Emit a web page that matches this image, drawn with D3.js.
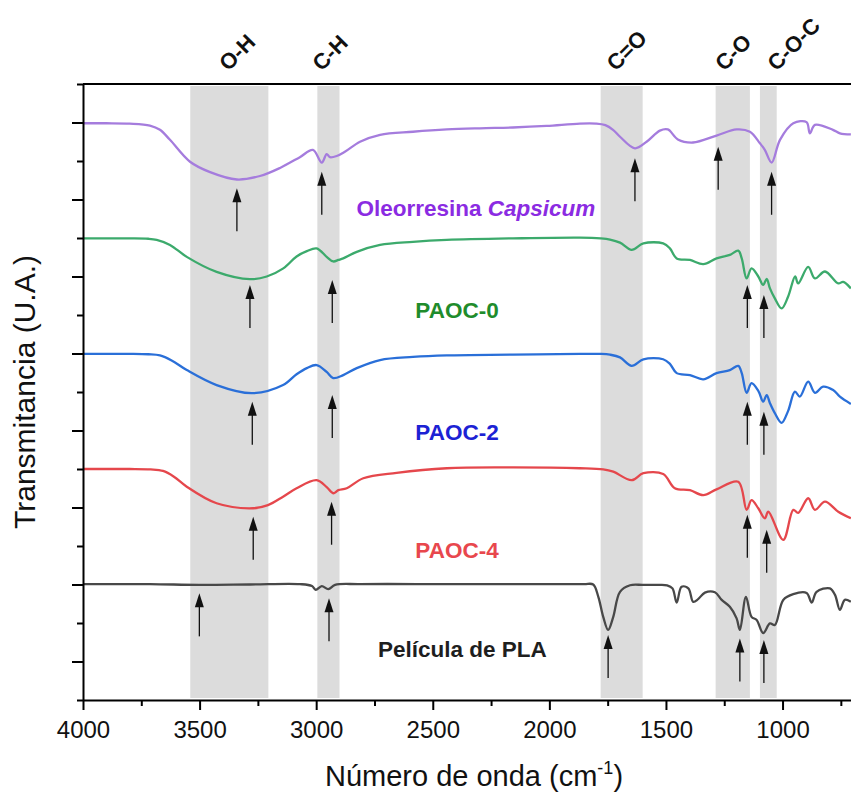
<!DOCTYPE html>
<html>
<head>
<meta charset="utf-8">
<script src="https://cdn.jsdelivr.net/npm/d3@7"></script>
<style>
  body { margin: 0; background: #fff; }
  svg { display: block; font-family: Arial, "Liberation Sans", sans-serif; }
</style>
</head>
<body>
<div id="vis"></div>
<script>
// spectra, [wavenumber, transmittance (U.A.)]
var oleorresina = [[4000,14.98],[3900,14.98],[3800,14.97],[3713,14.92],[3670,14.81],[3627,14.55],[3541,13.98],[3455,13.71],[3340,13.52],[3241,13.61],[3155,13.82],[3070,14.10],[3014,14.29],[2976,13.96],[2955,14.18],[2941,14.10],[2912,14.13],[2877,14.24],[2812,14.50],[2726,14.68],[2585,14.76],[2440,14.82],[2298,14.85],[2156,14.87],[2012,14.91],[1869,14.97],[1800,14.97],[1760,14.93],[1727,14.81],[1697,14.63],[1633,14.33],[1583,14.50],[1526,14.79],[1492,14.82],[1449,14.56],[1384,14.48],[1283,14.66],[1197,14.82],[1140,14.76],[1097,14.46],[1076,14.29],[1047,13.96],[1011,14.55],[954,14.98],[897,15.01],[883,14.72],[861,14.94],[784,14.81],[754,14.72],[707,14.69]]

var paoc0 = [[4000,11.99],[3900,11.99],[3800,11.99],[3720,11.98],[3684,11.95],[3627,11.82],[3555,11.51],[3427,11.12],[3284,10.93],[3212,11.00],[3141,11.21],[3084,11.52],[3040,11.66],[2998,11.73],[2955,11.51],[2927,11.39],[2905,11.43],[2884,11.47],[2826,11.64],[2726,11.82],[2585,11.90],[2440,11.95],[2156,11.99],[1869,12.01],[1780,11.99],[1740,11.96],[1697,11.88],[1647,11.69],[1597,11.86],[1512,11.86],[1483,11.73],[1454,11.47],[1397,11.43],[1340,11.32],[1283,11.47],[1226,11.56],[1190,11.67],[1175,11.47],[1154,10.95],[1133,11.21],[1104,11.00],[1083,10.78],[1068,10.94],[1054,10.69],[1033,10.43],[1004,10.17],[976,10.48],[946,11.00],[933,10.82],[890,11.25],[861,10.95],[818,11.13],[761,10.82],[740,10.86],[707,10.69]]

var paoc2 = [[4000,8.99],[3900,8.99],[3800,8.99],[3720,8.98],[3670,8.95],[3620,8.82],[3555,8.57],[3427,8.18],[3274,7.97],[3142,8.18],[3084,8.46],[3040,8.62],[2998,8.70],[2955,8.52],[2927,8.36],[2884,8.44],[2826,8.62],[2726,8.83],[2585,8.91],[2440,8.95],[2156,8.97],[1869,8.99],[1780,8.99],[1740,8.97],[1697,8.90],[1647,8.68],[1597,8.85],[1512,8.85],[1483,8.73],[1454,8.49],[1397,8.44],[1340,8.33],[1283,8.49],[1226,8.57],[1190,8.68],[1175,8.49],[1154,7.98],[1133,8.23],[1104,8.03],[1083,7.75],[1068,7.92],[1054,7.71],[1033,7.45],[1004,7.20],[976,7.51],[947,8.01],[926,7.88],[890,8.27],[861,7.98],[826,8.14],[783,8.05],[754,7.88],[707,7.69]]

var paoc4 = [[4000,6.00],[3900,6.00],[3800,6.00],[3710,5.99],[3657,5.95],[3610,5.80],[3555,5.54],[3427,5.11],[3270,4.98],[3207,5.06],[3142,5.28],[3084,5.50],[2998,5.71],[2955,5.53],[2927,5.37],[2905,5.45],[2869,5.50],[2798,5.76],[2655,5.90],[2440,6.02],[2155,6.04],[1869,6.02],[1769,5.99],[1726,5.93],[1647,5.71],[1597,5.89],[1512,5.87],[1462,5.50],[1397,5.45],[1340,5.32],[1283,5.47],[1190,5.67],[1154,4.94],[1133,5.19],[1104,4.98],[1076,4.72],[1061,4.89],[997,4.16],[954,4.94],[933,4.86],[890,5.24],[861,4.94],[818,5.15],[761,4.89],[707,4.72]]

var pla = [[4000,3.01],[3713,3.01],[3503,2.99],[3284,3.00],[3070,3.01],[3018,2.96],[3002,2.86],[2976,2.96],[2948,2.88],[2919,2.99],[2812,3.01],[2426,3.01],[1955,3.01],[1850,3.01],[1812,3.00],[1790,2.68],[1769,2.16],[1748,1.82],[1726,2.16],[1697,2.81],[1654,2.98],[1600,2.99],[1540,2.99],[1495,2.98],[1472,2.90],[1454,2.53],[1433,2.94],[1404,2.90],[1383,2.55],[1362,2.62],[1333,2.79],[1290,2.80],[1261,2.60],[1226,2.42],[1197,2.12],[1183,1.82],[1157,2.68],[1133,2.16],[1111,2.08],[1083,1.74],[1054,1.99],[1033,1.95],[997,2.60],[954,2.75],[897,2.78],[875,2.53],[854,2.81],[797,2.90],[775,2.73],[754,2.34],[733,2.60],[707,2.55]]

var seriesNames = ["Oleorresina Capsicum", "PAOC-0", "PAOC-2", "PAOC-4", "Película de PLA"]

// highlighted bands (cm-1) and their groups
var bandNames = ["O-H", "C-H", "C=O", "C-O", "C-O-C"]
var bandRanges = [[3540, 3205], [2995, 2900], [1780, 1600], [1287, 1140], [1097, 1025]]

// arrows: [wavenumber, arrow tip (U.A.)]
var arrowsOle = [[3340, 13.29], [2976, 13.72], [1633, 14.07], [1276, 14.37], [1047, 13.72]]
var arrowsP0 = [[3284, 10.78], [2931, 10.91], [1151, 10.78], [1080, 10.52]]
var arrowsP2 = [[3274, 7.75], [2931, 7.92], [1151, 7.75], [1080, 7.49]]
var arrowsP4 = [[3270, 4.76], [2934, 5.15], [1151, 4.81], [1068, 4.42]]
var arrowsPla = [[3501, 2.77], [2945, 2.64], [1748, 1.69], [1183, 1.60], [1080, 1.56]]

var xMajor = [4000, 3500, 3000, 2500, 2000, 1500, 1000]
var xMinor = [3750, 3250, 2750, 2250, 1750, 1250, 750]

//measurements
var width = 851, height = 795

var x = d3.scaleLinear().domain([4000, 700]).range([83, 852.5])
var y = d3.scaleLinear().domain([0, 16]).range([700, 84])

var lineCol = ["#a57cdd", "#3caa6c", "#2a6fd8", "#e5474c", "#484848"]
var textCol = ["#8b2be2", "#1f8c2c", "#1c22d4", "#e8474d", "#1e1e1e"]
// label anchors: [wavenumber, baseline]
var labelPos = [[2315, 12.57], [2396, 9.92], [2396, 6.75], [2396, 3.69], [2373, 1.12]]
var bandLabelAt = [3377, 2977, 1715, 1250, 1026]

var chart = d3.select("#vis")
  .append("svg")
  .attr("width", width)
  .attr("height", height)

// grey bands
chart.selectAll("rect.band")
  .data(bandRanges)
  .enter()
  .append("rect")
  .attr("class", "band")
  .attr("x", d => x(d[0]))
  .attr("width", d => x(d[1]) - x(d[0]))
  .attr("y", y(16) + 2)
  .attr("height", y(0) - y(16) - 4)
  .attr("fill", "#dcdcdc")

// band names, rotated
chart.selectAll("text.band")
  .data(bandNames)
  .enter()
  .append("text")
  .attr("class", "band")
  .attr("transform", (d, i) => `translate(${x(bandLabelAt[i])},72) rotate(-45)`)
  .attr("font-size", "22px")
  .attr("font-weight", "bold")
  .attr("fill", "#111")
  .text(d => d)

// spectra
var spectra = [oleorresina, paoc0, paoc2, paoc4, pla]
var line = d3.line()
  .x(d => x(d[0]))
  .y(d => y(d[1]))
  .curve(d3.curveCatmullRom.alpha(0.5))

chart.selectAll("path.spec")
  .data(spectra)
  .enter()
  .append("path")
  .attr("class", "spec")
  .attr("d", line)
  .attr("fill", "none")
  .attr("stroke", (d, i) => lineCol[i])
  .attr("stroke-width", 2.3)
  .attr("stroke-linejoin", "round")

// arrows
var arrowSets = [arrowsOle, arrowsP0, arrowsP2, arrowsP4, arrowsPla]
var arrowLen = 43, headLen = 14, headW = 4.5
arrowSets.forEach(function(set) {
  var g = chart.append("g")
  g.selectAll("line")
    .data(set)
    .enter()
    .append("line")
    .attr("x1", d => x(d[0]))
    .attr("x2", d => x(d[0]))
    .attr("y1", d => y(d[1]) + headLen - 1)
    .attr("y2", d => y(d[1]) + arrowLen)
    .attr("stroke", "#111")
    .attr("stroke-width", 1.3)
  g.selectAll("path")
    .data(set)
    .enter()
    .append("path")
    .attr("d", d => {
      var px = x(d[0]), py = y(d[1])
      return `M${px},${py}L${px - headW},${py + headLen}L${px + headW},${py + headLen}Z`
    })
    .attr("fill", "#111")
})

// series labels
var labels = chart.selectAll("text.lab")
  .data(seriesNames)
  .enter()
  .append("text")
  .attr("class", "lab")
  .attr("x", (d, i) => x(labelPos[i][0]))
  .attr("y", (d, i) => y(labelPos[i][1]))
  .attr("text-anchor", "middle")
  .attr("font-size", "22.5px")
  .attr("font-weight", "bold")
  .attr("fill", (d, i) => textCol[i])

labels.each(function(d) {
  var t = d3.select(this)
  if (d.indexOf("Capsicum") >= 0) {
    t.append("tspan").text(d.replace("Capsicum", ""))
    t.append("tspan").attr("font-style", "italic").text("Capsicum")
  } else {
    t.text(d)
  }
})

// axes
var xAxis = chart.append("g")
  .attr("transform", `translate(0,${y(0)})`)
  .call(d3.axisBottom(x).tickValues(xMajor).tickSize(10).tickSizeOuter(0).tickPadding(11).tickFormat(d3.format("d")))
xAxis.selectAll("text").attr("font-size", "24px").attr("fill", "#111").style("font-family", "Arial, 'Liberation Sans', sans-serif")

chart.append("g")
  .attr("transform", `translate(0,${y(0)})`)
  .call(d3.axisBottom(x).tickValues(xMinor).tickSize(6).tickSizeOuter(0).tickFormat(""))
  .select(".domain").remove()

var yMajor = d3.range(1, 17, 2), yMinor = d3.range(0, 17, 2)
chart.append("g")
  .attr("transform", `translate(${x(4000)},0)`)
  .call(d3.axisLeft(y).tickValues(yMajor).tickSize(11).tickSizeOuter(0).tickFormat(""))
chart.append("g")
  .attr("transform", `translate(${x(4000)},0)`)
  .call(d3.axisLeft(y).tickValues(yMinor).tickSize(6).tickSizeOuter(0).tickFormat(""))
  .select(".domain").remove()

// top frame
chart.append("line")
  .attr("x1", x(4000)).attr("x2", x(700))
  .attr("y1", y(16)).attr("y2", y(16))
  .attr("stroke", "#000")

chart.selectAll(".domain, .tick line")
  .attr("stroke", "#000")
  .attr("stroke-width", 2)
chart.selectAll("line").filter(function() { return this.parentNode === chart.node() })
  .attr("stroke-width", 2)

// axis titles
var xt = chart.append("text")
  .attr("x", 474)
  .attr("y", 786)
  .attr("text-anchor", "middle")
  .attr("font-size", "29px")
  .attr("fill", "#111")
xt.append("tspan").text("Número de onda (cm")
xt.append("tspan").attr("font-size", "18px").attr("dy", -12).text("-1")
xt.append("tspan").attr("dy", 12).text(")")

chart.append("text")
  .attr("transform", `translate(35,392) rotate(-90)`)
  .attr("text-anchor", "middle")
  .attr("font-size", "30px")
  .attr("fill", "#111")
  .text("Transmitancia (U.A.)")
</script>
</body>
</html>
